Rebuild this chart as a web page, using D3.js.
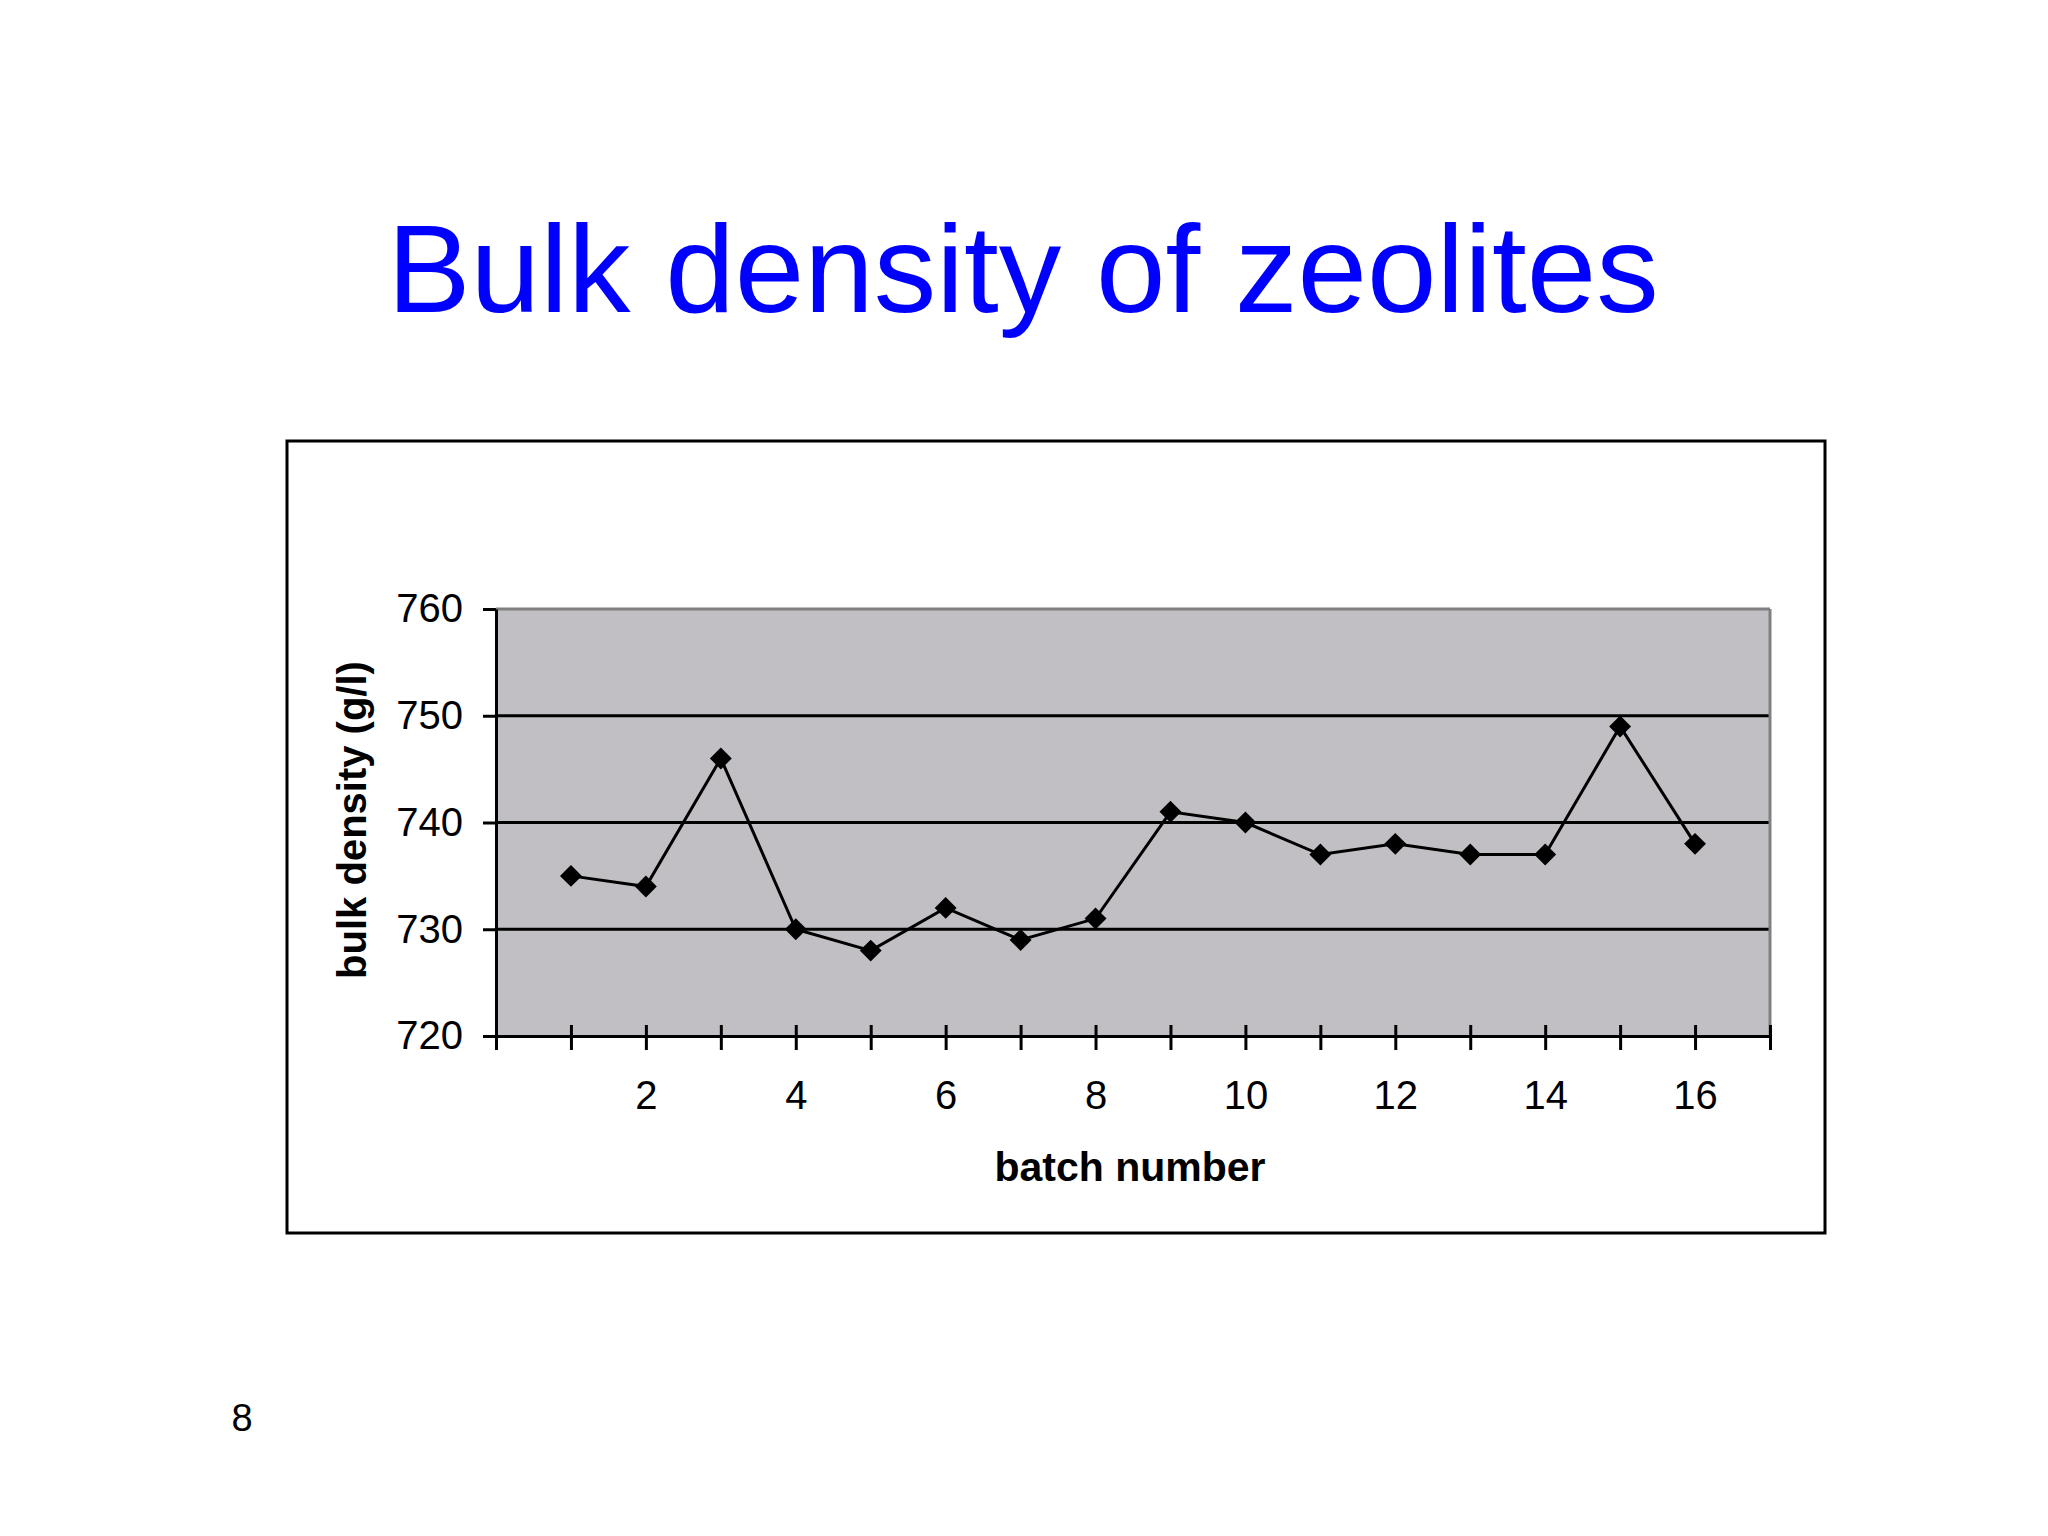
<!DOCTYPE html>
<html>
<head>
<meta charset="utf-8">
<script src="https://cdn.jsdelivr.net/npm/d3@7"></script>
<style>
  html, body { margin: 0; padding: 0; background: #fff; }
  svg { display: block; font-family: "Liberation Sans", Arial, sans-serif; }
</style>
</head>
<body>
<svg id="chart"></svg>
<script>
// batch numbers and measured bulk density (g/l)
const batches = [1, 2, 3, 4, 5, 6, 7, 8, 9, 10, 11, 12, 13, 14, 15, 16];
const density = [735, 734, 746, 730, 728, 732, 729, 731, 741, 740, 737, 738, 737, 737, 749, 738];
const yTicks = [720, 730, 740, 750, 760];
const xTicks = [0, 1, 2, 3, 4, 5, 6, 7, 8, 9, 10, 11, 12, 13, 14, 15, 16, 17];
const xLabels = [2, 4, 6, 8, 10, 12, 14, 16];

const W = 2048, H = 1536;
const plot = { left: 496, right: 1770, top: 609, bottom: 1036 };

const svg = d3.select("#chart").attr("width", W).attr("height", H);

// title
svg.append("text")
  .attr("x", 1023).attr("y", 312)
  .attr("text-anchor", "middle")
  .style("font-size", "125px")
  .attr("fill", "#0000ff")
  .text("Bulk density of zeolites");

// page number
svg.append("text")
  .attr("x", 242).attr("y", 1431)
  .attr("text-anchor", "middle")
  .style("font-size", "38px")
  .attr("fill", "#000")
  .text("8");

// chart frame
svg.append("rect")
  .attr("x", 287).attr("y", 441)
  .attr("width", 1538).attr("height", 792)
  .attr("fill", "#fff")
  .attr("stroke", "#000").attr("stroke-width", 3);

const x = d3.scaleLinear().domain([0, 17]).range([plot.left, plot.right]);
const y = d3.scaleLinear().domain([720, 760]).range([plot.bottom, plot.top]);

// plot area
svg.append("rect")
  .attr("x", x(0)).attr("y", y(760))
  .attr("width", x(17) - x(0)).attr("height", y(720) - y(760))
  .attr("fill", "#c1bfc4");

// gridlines
svg.append("g")
  .selectAll("line")
  .data(yTicks.filter(d => d > 720))
  .join("line")
  .attr("x1", x(0)).attr("x2", x(17))
  .attr("y1", d => y(d)).attr("y2", d => y(d))
  .attr("stroke", d => d === 760 ? "#808080" : "#000")
  .attr("stroke-width", 3);

// right border of plot area
svg.append("line")
  .attr("x1", x(17)).attr("x2", x(17))
  .attr("y1", y(760)).attr("y2", y(720))
  .attr("stroke", "#808080").attr("stroke-width", 3);

// y axis
const yAxis = svg.append("g")
  .attr("transform", `translate(${x(0)},0)`)
  .call(d3.axisLeft(y).tickValues(yTicks).tickSize(13).tickSizeOuter(0).tickPadding(20));
yAxis.select(".domain").attr("stroke", "#000").attr("stroke-width", 3);
yAxis.selectAll(".tick line").attr("stroke", "#000").attr("stroke-width", 3);
yAxis.selectAll(".tick text")
  .style("font-size", "40px")
  .attr("font-family", "Liberation Sans, Arial, sans-serif")
  .attr("fill", "#000");

// x axis
const xAxis = svg.append("g")
  .attr("transform", `translate(0,${y(720)})`)
  .call(d3.axisBottom(x).tickValues(xTicks).tickSize(14).tickSizeOuter(0)
    .tickFormat(d => xLabels.includes(d) ? d : ""));
xAxis.select(".domain").attr("stroke", "#000").attr("stroke-width", 3);
xAxis.selectAll(".tick line")
  .attr("y1", -11)
  .attr("stroke", "#000").attr("stroke-width", 3);
xAxis.selectAll(".tick text")
  .attr("y", 73).attr("dy", 0)
  .style("font-size", "40px")
  .attr("font-family", "Liberation Sans, Arial, sans-serif")
  .attr("fill", "#000");

// axis titles
svg.append("text")
  .attr("x", 1130).attr("y", 1181)
  .attr("text-anchor", "middle")
  .style("font-size", "41px").style("font-weight", "bold")
  .text("batch number");

svg.append("text")
  .attr("transform", "translate(366,820) rotate(-90)")
  .attr("text-anchor", "middle")
  .style("font-size", "40px").style("font-weight", "bold")
  .text("bulk density (g/l)");

// series
const pts = batches.map((b, i) => ({ b, v: density[i] }));

svg.append("path")
  .datum(pts)
  .attr("fill", "none")
  .attr("stroke", "#000")
  .attr("stroke-width", 3)
  .attr("d", d3.line().x(d => x(d.b)).y(d => y(d.v)));

svg.append("g")
  .selectAll("path")
  .data(pts)
  .join("path")
  .attr("transform", d => `translate(${x(d.b)},${y(d.v)}) rotate(45)`)
  .attr("d", d3.symbol(d3.symbolSquare, 240))
  .attr("fill", "#000");
</script>
</body>
</html>
